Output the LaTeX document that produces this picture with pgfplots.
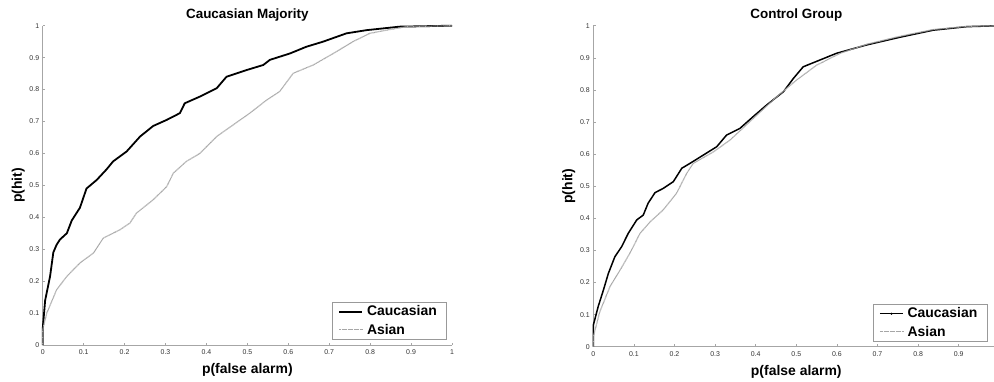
\documentclass[border=0pt]{standalone}
\usepackage{pgfplots}
\pgfplotsset{compat=1.18}
\usepackage{fontspec}
\setmainfont{Liberation Sans}

\pgfplotstableread{
x y
0 0
0 0.05
0.006 0.14
0.018 0.215
0.026 0.29
0.034 0.314
0.042 0.33
0.059 0.35
0.071 0.39
0.091 0.43
0.107 0.49
0.132 0.517
0.156 0.55
0.172 0.575
0.205 0.606
0.238 0.653
0.27 0.686
0.303 0.705
0.335 0.726
0.347 0.757
0.384 0.778
0.425 0.804
0.449 0.84
0.498 0.861
0.539 0.877
0.555 0.893
0.604 0.913
0.644 0.934
0.685 0.95
0.742 0.976
0.791 0.986
0.872 0.997
1 1
}\leftcauc

\pgfplotstableread{
x y
0 0
0 0.048
0.01 0.1
0.034 0.173
0.059 0.215
0.091 0.257
0.124 0.288
0.148 0.335
0.189 0.361
0.213 0.382
0.229 0.413
0.27 0.455
0.303 0.496
0.319 0.538
0.351 0.575
0.384 0.6
0.425 0.653
0.465 0.689
0.506 0.726
0.547 0.767
0.579 0.794
0.612 0.851
0.661 0.877
0.71 0.913
0.758 0.95
0.799 0.976
0.84 0.986
0.889 0.997
1 1
}\leftasian

\pgfplotstableread{
x y
0 0
0 0.067
0.012 0.125
0.025 0.177
0.037 0.228
0.053 0.28
0.07 0.312
0.086 0.353
0.107 0.395
0.123 0.41
0.135 0.447
0.152 0.48
0.172 0.493
0.197 0.514
0.218 0.556
0.238 0.571
0.271 0.597
0.304 0.623
0.328 0.659
0.361 0.68
0.394 0.717
0.427 0.753
0.468 0.794
0.493 0.836
0.517 0.872
0.558 0.893
0.599 0.914
0.673 0.94
0.755 0.964
0.837 0.986
0.92 0.997
1 1
}\rightcauc

\pgfplotstableread{
x y
0 0
0 0.031
0.016 0.109
0.041 0.187
0.066 0.239
0.09 0.291
0.115 0.353
0.14 0.389
0.172 0.426
0.205 0.478
0.23 0.54
0.246 0.571
0.296 0.607
0.337 0.644
0.394 0.711
0.452 0.779
0.501 0.831
0.55 0.877
0.608 0.914
0.673 0.942
0.755 0.967
0.837 0.988
0.92 0.998
1 1
}\rightasian

\pgfplotsset{
  rocaxis/.style={
    scale only axis,
    xmin=0, xmax=1, ymin=0, ymax=1,
    axis x line*=bottom, axis y line*=left,
    axis line style={gray!70, line width=0.6bp},
    tick align=inside,
    major tick length=2.5bp,
    tick style={gray!70, line width=0.5bp},
    ytick={0,0.1,...,1.01},
    /pgf/number format/assume math mode=true,
    tick label style={font=\fontsize{7}{8}\selectfont, text=black!80},
    xticklabel style={yshift=-1bp},
    label style={font=\bfseries\fontsize{14}{16}\selectfont},
    title style={font=\bfseries\fontsize{13.5}{16}\selectfont, yshift=-5bp},
    xlabel style={yshift=-2bp},
    ylabel style={yshift=-2bp},
    legend style={font=\bfseries\fontsize{14}{16}\selectfont, draw=gray!80, line width=0.6bp,
      inner xsep=6bp, inner ysep=3bp, row sep=4.5bp,
      nodes={inner xsep=4bp, inner ysep=1bp}},
    legend cell align=left,
    legend image code/.code={\draw[mark repeat=2,mark phase=2,##1] plot coordinates {(0bp,0bp) (11.5bp,0bp) (23bp,0bp)};},
    clip=false,
  },
  cauc/.style={black, line width=1.8bp},
  asian/.style={gray!70, line width=1.2bp, dash pattern=on 0.7bp off 0.5bp},
}

\begin{document}
\begin{tikzpicture}[x=1bp,y=1bp]
\useasboundingbox (0,0) rectangle (994,381);
\clip (0,0) rectangle (994,381);
\begin{axis}[rocaxis,
  at={(42.7bp,36bp)}, anchor=south west,
  width=409.3bp, height=319.3bp,
  xtick={0,0.1,...,1.01},
  title={Caucasian Majority},
  xlabel={p(false alarm)}, ylabel={p(hit)},
  legend style={at={(0.988,0.016)}, anchor=south east},
]
\addplot[cauc] table {\leftcauc};
\addlegendentry{Caucasian}
\addplot[asian] table {\leftasian};
\addlegendentry{Asian}
\end{axis}
\begin{axis}[rocaxis,
  at={(593.3bp,34.3bp)}, anchor=south west,
  width=406bp, height=321bp,
  xtick={0,0.1,...,0.91},
  title={Control Group},
  xlabel={p(false alarm)}, ylabel={p(hit)},
  legend style={at={(0.689,0.015)}, anchor=south west},
]
\addplot[black, line width=1.5bp, forget plot] table {\rightcauc};
\addlegendimage{black, line width=0.6bp, mark=*, mark size=0.7bp}
\addlegendentry{Caucasian}
\addplot[asian] table {\rightasian};
\addlegendentry{Asian}
\end{axis}
\end{tikzpicture}
\end{document}
